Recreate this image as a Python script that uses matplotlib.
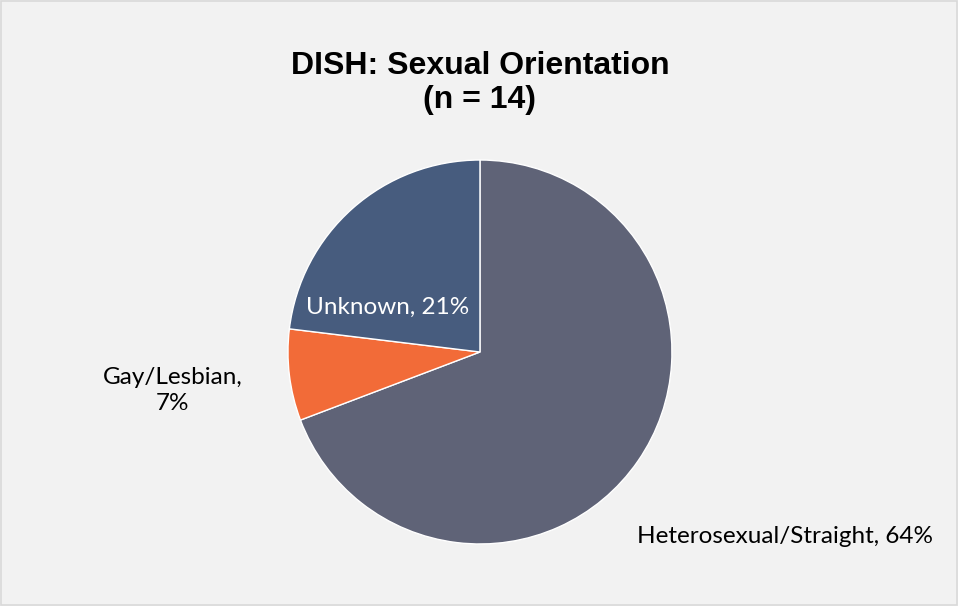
import matplotlib
matplotlib.use("Agg")
import matplotlib.pyplot as plt
from matplotlib.patches import Rectangle

# counts drawn by the pie, and the labels as printed on the chart
categories = ["Heterosexual/Straight", "Gay/Lesbian", "Unknown"]
counts = [9, 1, 3]
pct_labels = ["Heterosexual/Straight, 64%", "Gay/Lesbian,\n7%", "Unknown, 21%"]
colors = ["#5F6377", "#F26B38", "#475C7E"]

fig = plt.figure(figsize=(9.58, 6.06), dpi=100)
fig.patch.set_facecolor("#F2F2F2")
fig.patches.append(Rectangle((0.0015, 0.002), 0.997, 0.996, transform=fig.transFigure,
                             fill=False, edgecolor="#D9D9D9", linewidth=1.2))

ax = fig.add_axes([0.3006, 0.1023, 0.4008, 0.6337])
ax.set_facecolor("none")
wedges, _ = ax.pie(counts, colors=colors, startangle=90, counterclock=False,
                   radius=1, wedgeprops=dict(edgecolor="white", linewidth=1))
ax.set_xlim(-1, 1)
ax.set_ylim(-1, 1)
ax.set_aspect("equal")
ax.axis("off")

label_font = "Lato"
fs = 17.5
ax.text(1.59, -0.96, pct_labels[0], ha="center", va="center", fontsize=fs,
        family=label_font, color="#000000")
ax.text(-1.60, -0.20, pct_labels[1], ha="center", va="center", fontsize=fs,
        family=label_font, color="#000000", linespacing=1.25)
ax.text(-0.48, 0.23, pct_labels[2], ha="center", va="center", fontsize=fs,
        family=label_font, color="white")

fig.text(0.501, 0.863, "DISH: Sexual Orientation\n(n = 14)", ha="center", va="center",
         fontsize=23, fontweight="bold", family="Liberation Sans", linespacing=1.2)

fig.savefig("out.png", dpi=100, facecolor=fig.get_facecolor())
